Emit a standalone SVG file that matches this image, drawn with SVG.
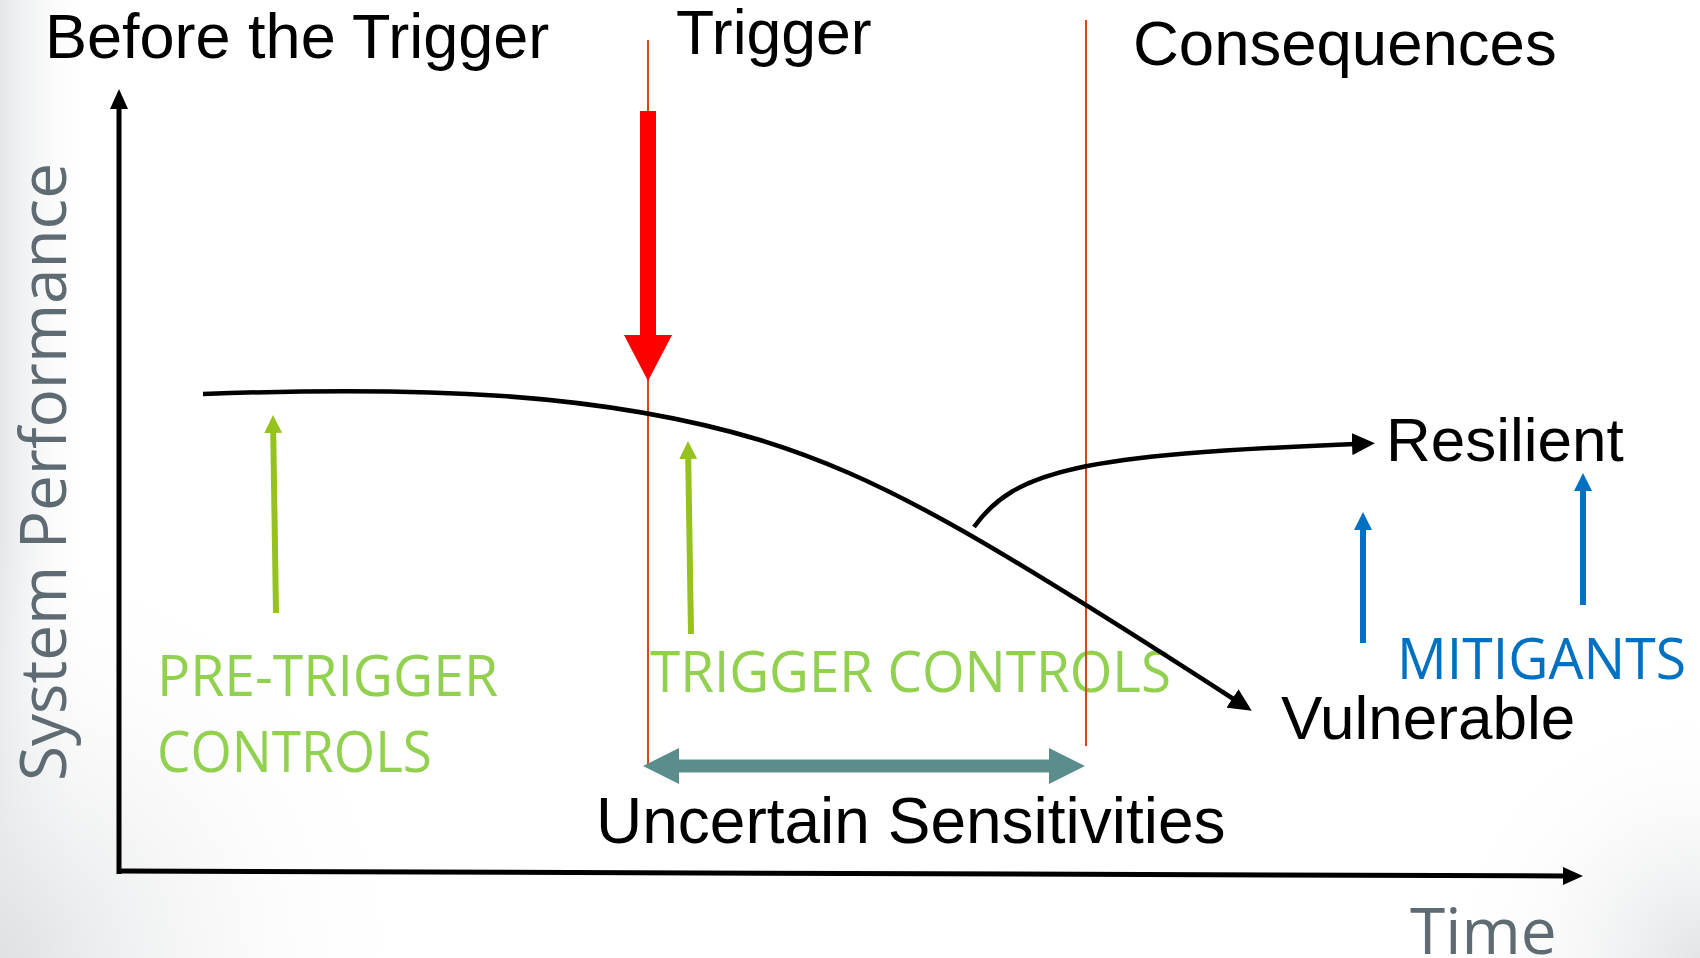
<svg xmlns="http://www.w3.org/2000/svg" width="1700" height="958" viewBox="0 0 1700 958">
  <defs>
    <style>
      .arial { font-family: "Liberation Sans", Arial, sans-serif; fill: #000; }
      .gray { font-family: "Open Sans", "DejaVu Sans", sans-serif; fill: #5f6b73; }
      .green { font-family: "Open Sans", "Liberation Sans", sans-serif; fill: #92d050; }
      .blue { font-family: "Open Sans", "Liberation Sans", sans-serif; fill: #0070c0; }
      .axis { stroke: #000; stroke-width: 5; fill: none; }
      .curve { stroke: #000; stroke-width: 4.5; fill: none; }
      .vline { stroke: #d94519; stroke-width: 2; fill: none; }
      .garrow { stroke: #96c21f; stroke-width: 6; fill: none; }
      .barrow { stroke: #0070c0; stroke-width: 6; fill: none; }
    </style>
    <linearGradient id="leftShade" x1="0" y1="0" x2="1" y2="0">
      <stop offset="0" stop-color="#e4e6e8" stop-opacity="1"/>
      <stop offset="1" stop-color="#ffffff" stop-opacity="0"/>
    </linearGradient>
    <radialGradient id="blShade" cx="0" cy="958" r="420" gradientUnits="userSpaceOnUse">
      <stop offset="0" stop-color="#dfe1e3" stop-opacity="1"/>
      <stop offset="1" stop-color="#ffffff" stop-opacity="0"/>
    </radialGradient>
    <radialGradient id="brShade" cx="1700" cy="958" r="260" gradientUnits="userSpaceOnUse">
      <stop offset="0" stop-color="#e2e4e6" stop-opacity="1"/>
      <stop offset="1" stop-color="#ffffff" stop-opacity="0"/>
    </radialGradient>
    <marker id="axisHead" markerUnits="userSpaceOnUse" markerWidth="20" markerHeight="18" refX="2" refY="9" orient="auto">
      <path d="M0,0 L20,9 L0,18 Z" fill="#000"/>
    </marker>
    <marker id="curveHead" markerUnits="userSpaceOnUse" markerWidth="24" markerHeight="22" refX="3" refY="11" orient="auto">
      <path d="M0,0 L23,11 L0,22 Z" fill="#000"/>
    </marker>
    <marker id="greenHead" markerUnits="userSpaceOnUse" markerWidth="18" markerHeight="18" refX="2" refY="9" orient="auto">
      <path d="M0,0 L18,9 L0,18 Z" fill="#96c21f"/>
    </marker>
    <marker id="blueHead" markerUnits="userSpaceOnUse" markerWidth="18" markerHeight="18" refX="2" refY="9" orient="auto">
      <path d="M0,0 L18,9 L0,18 Z" fill="#0070c0"/>
    </marker>
  </defs>

  <g id="background">
    <rect x="0" y="0" width="1700" height="958" fill="#ffffff"/>
    <rect x="0" y="0" width="90" height="958" fill="url(#leftShade)"/>
    <rect x="0" y="500" width="460" height="458" fill="url(#blShade)"/>
    <rect x="1420" y="680" width="280" height="278" fill="url(#brShade)"/>
  </g>

  <g id="labels">
    <g id="before-trigger"><text class="arial" x="45" y="58" font-size="63">Before the Trigger</text></g>
    <g id="trigger-label"><text class="arial" x="676" y="54" font-size="62.5">Trigger</text></g>
    <g id="consequences"><text class="arial" x="1133" y="65" font-size="63.5">Consequences</text></g>
    <g id="y-title"><text class="gray" transform="translate(66,781) rotate(-90)" font-size="64" textLength="618" lengthAdjust="spacingAndGlyphs">System Performance</text></g>
    <g id="x-title"><text class="gray" x="1410" y="954" font-size="64">Time</text></g>
    <g id="pre-trigger-controls">
      <text class="green" x="157" y="696" font-size="56" textLength="341" lengthAdjust="spacingAndGlyphs">PRE-TRIGGER</text>
      <text class="green" x="157" y="772" font-size="56" textLength="275" lengthAdjust="spacingAndGlyphs">CONTROLS</text>
    </g>
    <g id="trigger-controls"><text class="green" x="650" y="692" font-size="56" textLength="521" lengthAdjust="spacingAndGlyphs">TRIGGER CONTROLS</text></g>
    <g id="mitigants"><text class="blue" x="1397" y="679" font-size="56" textLength="289" lengthAdjust="spacingAndGlyphs">MITIGANTS</text></g>
    <g id="resilient"><text class="arial" x="1386" y="461" font-size="62">Resilient</text></g>
    <g id="vulnerable"><text class="arial" x="1281" y="739" font-size="62">Vulnerable</text></g>
    <g id="uncertain"><text class="arial" x="596" y="843" font-size="64">Uncertain Sensitivities</text></g>
  </g>

  <g id="connectors">
    <line class="vline" x1="648" y1="40" x2="648" y2="764"/>
    <line class="vline" x1="1086" y1="20" x2="1086" y2="746"/>
    <line class="axis" x1="119" y1="874" x2="119" y2="107" marker-end="url(#axisHead)"/>
    <line class="axis" x1="117" y1="871" x2="1565" y2="876" marker-end="url(#axisHead)"/>
    <path class="curve" d="M203,394 C420,386 600,392 760,440 C880,477 980,535 1235,700" marker-end="url(#curveHead)"/>
    <path class="curve" d="M974,527 C1015,470 1080,455 1355,444" marker-end="url(#curveHead)"/>
    <line class="garrow" x1="276" y1="613" x2="273.2" y2="431" marker-end="url(#greenHead)"/>
    <line class="garrow" x1="691" y1="634" x2="688.2" y2="457" marker-end="url(#greenHead)"/>
    <line class="barrow" x1="1363" y1="643" x2="1363" y2="528" marker-end="url(#blueHead)"/>
    <line class="barrow" x1="1583" y1="605" x2="1583" y2="489" marker-end="url(#blueHead)"/>
    <path id="trigger-arrow" d="M640,111 H656 V335 H672 L648,381 L624,335 H640 Z" fill="#ff0000"/>
    <path id="uncertain-span" d="M643,766 L679,748 L679,759.5 L1049,759.5 L1049,748 L1085,766 L1049,784 L1049,772.5 L679,772.5 L679,784 Z" fill="#5b8d8d"/>
  </g>
</svg>
